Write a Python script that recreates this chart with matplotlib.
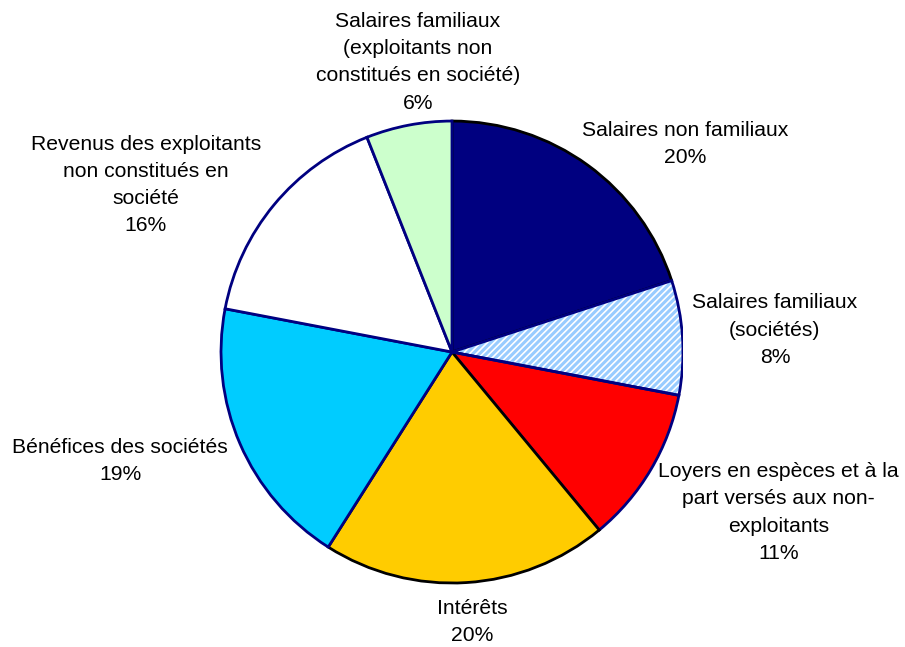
import matplotlib
matplotlib.use("Agg")
from matplotlib import pyplot as plt
import matplotlib.patches as mpatches

plt.rcParams['font.family'] = ['Liberation Sans', 'DejaVu Sans']
plt.rcParams['hatch.linewidth'] = 2.2

categories = [
    "Salaires non familiaux",
    "Salaires familiaux\n(sociétés)",
    "Loyers en espèces et à la\npart versés aux non-\nexploitants",
    "Intérêts",
    "Bénéfices des sociétés",
    "Revenus des exploitants\nnon constitués en\nsociété",
    "Salaires familiaux\n(exploitants non\nconstitués en société)",
]
shares = [20, 8, 11, 20, 19, 16, 6]
colors = ["#000080", "#FFFFFF", "#FF0000", "#FFCC00", "#00CCFF", "#FFFFFF", "#CCFFCC"]
edges = ["#000000", "#000080", "#000080", "#000000", "#000080", "#000080", "#000080"]
# where each label block sits (data coords, pie radius = 1)
label_pos = [(1.009, 0.900), (1.398, 0.095), (1.413, -0.695), (0.087, -1.169),
             (-1.437, -0.472), (-1.325, 0.723), (-0.147, 1.255)]

fig = plt.figure(figsize=(9.05, 6.47), dpi=100)
ax = fig.add_axes([0.2442, 0.0989, 0.5105, 0.714])

wedges, _ = ax.pie(shares, colors=colors, startangle=90, counterclock=False,
                   wedgeprops=dict(linewidth=2))
for w, ec in zip(wedges, edges):
    w.set_edgecolor(ec)

# hatched slice: light blue stripes, then navy outline on top
hw = wedges[1]
hw.set_edgecolor("#99CCFF")
hw.set_hatch("/////")
hw.set_linewidth(0)
ax.add_patch(mpatches.Wedge(hw.center, hw.r, hw.theta1, hw.theta2,
                            fill=False, edgecolor="#000080", linewidth=2))

for text, v, (x, y) in zip(categories, shares, label_pos):
    ax.text(x, y, f"{text}\n{v}%", ha="center", va="center",
            fontsize=15.2, linespacing=1.55)

ax.set_xlim(-1.0, 1.0)
ax.set_ylim(-1.0, 1.0)
ax.set_aspect("equal")
ax.axis("off")

fig.savefig("out.png", dpi=100)
